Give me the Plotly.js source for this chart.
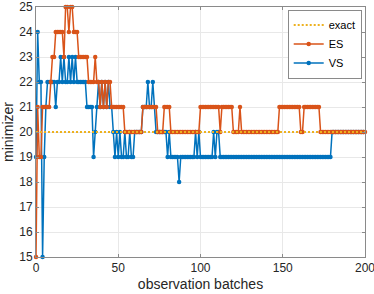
<!DOCTYPE html>
<html><head><meta charset="utf-8">
<script src="https://cdn.plot.ly/plotly-3.0.1.min.js"></script>
<style>html,body{margin:0;padding:0;background:#fff}#c{width:374px;height:294px}</style>
</head><body><div id="c"></div>
<script>
// ES values for batches 0..200 (runs of [value, count])
const esRuns = [[15,1],[21,1],[19,2],[21,5],[22,1],[23,2],[24,5],[23,1],[25,2],[24,1],[25,2],[24,3],[23,6],[22,4],[23,1],[22,2],[21,1],[22,1],[21,1],[22,1],[21,1],[22,2],[21,8],[20,11],[21,9],[20,4],[21,4],[20,18],[21,12],[20,1],[21,7],[20,4],[21,1],[20,23],[21,13],[20,2],[21,10],[20,28]];
const vsRuns = [[19,1],[24,1],[22,2],[15,1],[19,1],[21,1],[22,5],[21,1],[22,2],[23,1],[22,1],[23,1],[22,2],[23,1],[22,1],[23,1],[22,1],[23,1],[22,6],[21,4],[19,1],[20,1],[21,1],[22,1],[21,1],[22,1],[21,1],[22,1],[21,1],[22,1],[21,2],[20,1],[19,1],[20,1],[19,1],[20,1],[19,2],[20,1],[19,2],[20,1],[19,2],[20,5],[21,3],[22,1],[21,2],[22,1],[21,1],[20,7],[19,1],[20,1],[19,5],[18,1],[19,9],[20,1],[19,1],[20,1],[19,8],[20,1],[19,1],[20,2],[19,68],[20,20]];
const exactValue = 20;
const xMax = 200;
const xTicks = [0, 50, 100, 150, 200];
const yTicks = [15, 16, 17, 18, 19, 20, 21, 22, 23, 24, 25];

function expand(runs){const out=[];runs.forEach(([v,n])=>{for(let i=0;i<n;i++)out.push(v);});return out;}
const es = expand(esRuns).slice(0, xMax+1);
const vs = expand(vsRuns).slice(0, xMax+1);
const batches = Array.from({length: xMax+1}, (_, i) => i);
const exact = batches.map(() => exactValue);

const font = "Liberation Sans, Arial, sans-serif";
const traces = [
  {x: batches, y: vs, name: 'VS', mode: 'lines+markers', legendrank: 3, cliponaxis: false,
   line: {color: '#0072BD', width: 1.5}, marker: {color: '#0072BD', size: 4.5}},
  {x: batches, y: es, name: 'ES', mode: 'lines+markers', legendrank: 2, cliponaxis: false,
   line: {color: '#D95319', width: 1.5}, marker: {color: '#D95319', size: 4.5}},
  {x: batches, y: exact, name: 'exact', mode: 'lines', legendrank: 1,
   line: {color: '#EDB120', width: 2, dash: '2px,2px'}}
];
const axisCommon = {
  showline: true, mirror: 'ticks', linecolor: '#8a8a8a', linewidth: 1,
  ticks: 'inside', ticklen: 3, tickcolor: '#8a8a8a', tickmode: 'array',
  ticklabeloverflow: 'allow',
  showgrid: true, gridcolor: '#e8e8e8', zeroline: false,
  tickfont: {family: font, size: 12, color: '#262626'}
};
const layout = {
  width: 374, height: 294,
  margin: {l: 36, r: 9, t: 7, b: 37},
  paper_bgcolor: '#fff', plot_bgcolor: '#fff',
  font: {family: font, color: '#262626'},
  xaxis: Object.assign({}, axisCommon, {range: [0, 200], tickvals: xTicks, ticktext: xTicks.map(String),
    title: {text: 'observation batches', font: {family: font, size: 14, color: '#262626'}, standoff: 4}}),
  yaxis: Object.assign({}, axisCommon, {range: [15, 25], tickvals: yTicks, ticktext: yTicks.map(String),
    title: {text: 'minimizer', font: {family: font, size: 14, color: '#262626'}, standoff: 5}}),
  legend: {x: 0.99, y: 0.99, xanchor: 'right', yanchor: 'top', bgcolor: '#fff',
    bordercolor: '#8a8a8a', borderwidth: 1, font: {family: font, size: 11, color: '#000'},
    tracegroupgap: 0, itemwidth: 30},
  showlegend: true
};
Plotly.newPlot('c', traces, layout, {displayModeBar: false, staticPlot: true});
</script>
</body></html>
